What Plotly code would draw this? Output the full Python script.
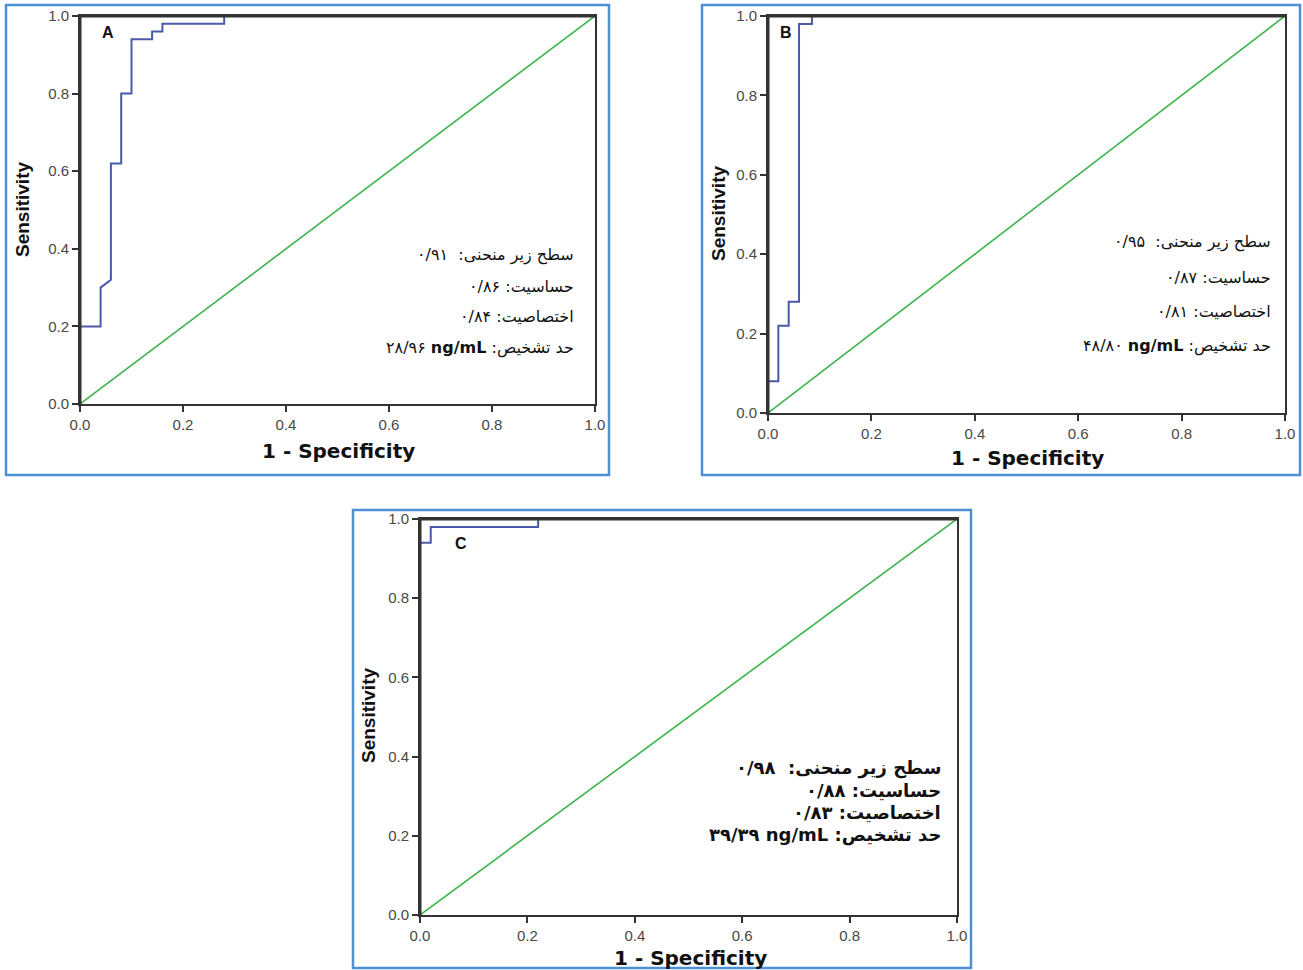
import plotly.graph_objects as go

W, H = 1303, 970

# ---------------- data ----------------
fpr_A = [0, 0, 0.04, 0.04, 0.06, 0.06, 0.08, 0.08, 0.10, 0.10, 0.14, 0.14, 0.16, 0.16, 0.28, 0.28, 1.0]
tpr_A = [0, 0.20, 0.20, 0.30, 0.32, 0.62, 0.62, 0.80, 0.80, 0.94, 0.94, 0.96, 0.96, 0.98, 0.98, 1.0, 1.0]

fpr_B = [0, 0, 0.02, 0.02, 0.04, 0.04, 0.06, 0.06, 0.085, 0.085, 1.0]
tpr_B = [0, 0.08, 0.08, 0.22, 0.22, 0.28, 0.28, 0.98, 0.98, 1.0, 1.0]

fpr_C = [0, 0, 0.02, 0.02, 0.22, 0.22, 1.0]
tpr_C = [0, 0.94, 0.94, 0.98, 0.98, 1.0, 1.0]

ref_x = [0, 1]
ref_y = [0, 1]

tick_vals = [0.0, 0.2, 0.4, 0.6, 0.8, 1.0]
tick_text = ["0.0", "0.2", "0.4", "0.6", "0.8", "1.0"]

auc = {"A": "۰/۹۱", "B": "۰/۹۵", "C": "۰/۹۸"}
sens = {"A": "۰/۸۶", "B": "۰/۸۷", "C": "۰/۸۸"}
spec = {"A": "۰/۸۴", "B": "۰/۸۱", "C": "۰/۸۳"}
cutoff = {"A": "۲۸/۹۶", "B": "۴۸/۸۰", "C": "۳۹/۳۹"}

LBL_AUC = "سطح زیر منحنی"
LBL_SENS = "حساسیت"
LBL_SPEC = "اختصاصیت"
LBL_CUT = "حد تشخیص"

# ---------------- layout geometry (pixels) ----------------
def px(x):
    return x / W

def py(y):
    return 1 - y / H

panels = {
    "A": dict(plot=(80, 595, 16, 404), frame=(6, 609, 5, 475), xa="x", ya="y",
              label=(108, 33), ytitle=(22, 210), xtitle=(338, 451),
              txt_right=576, txt_y=[255, 286, 317, 348], fs=16, bold=False),
    "B": dict(plot=(768, 1285, 16, 413), frame=(702, 1300, 5, 475), xa="x2", ya="y2",
              label=(786, 33), ytitle=(718, 213), xtitle=(1027, 458),
              txt_right=1273, txt_y=[242, 277, 311, 346], fs=16, bold=False),
    "C": dict(plot=(420, 957, 519, 915), frame=(353, 971, 510, 968), xa="x3", ya="y3",
              label=(461, 543), ytitle=(368, 716), xtitle=(690, 958),
              txt_right=943, txt_y=[768, 790, 812, 835], fs=18, bold=True),
}

curves = {"A": (fpr_A, tpr_A), "B": (fpr_B, tpr_B), "C": (fpr_C, tpr_C)}

BLUE_LINE = "#4b5aa8"
GREEN_LINE = "#3cb44b"
FRAME = "#333333"
PANEL_BORDER = "#4f8fd6"

fig = go.Figure()
layout = dict(
    width=W, height=H, autosize=False,
    margin=dict(l=0, r=0, t=0, b=0, pad=0, autoexpand=False),
    paper_bgcolor="white", plot_bgcolor="white",
    showlegend=False,
)

shapes = []
annotations = []

for name, p in panels.items():
    x0, x1, yt, yb = p["plot"]
    fx, fy = curves[name]
    fig.add_trace(go.Scatter(x=ref_x, y=ref_y, mode="lines", xaxis=p["xa"], yaxis=p["ya"],
                             line=dict(color=GREEN_LINE, width=1.6), cliponaxis=False,
                             hoverinfo="skip"))
    fig.add_trace(go.Scatter(x=fx, y=fy, mode="lines", xaxis=p["xa"], yaxis=p["ya"],
                             line=dict(color=BLUE_LINE, width=2), cliponaxis=False,
                             hoverinfo="skip"))
    suffix = p["xa"][1:]
    axcommon = dict(range=[0, 1], showgrid=False, zeroline=False, showline=True,
                    linecolor=FRAME, linewidth=2, mirror=True, ticks="outside",
                    ticklen=6, tickwidth=2, tickcolor=FRAME, tickvals=tick_vals,
                    ticktext=tick_text, automargin=False, layer="above traces",
                    tickfont=dict(family="Liberation Sans", size=15, color="#484848"),
                    fixedrange=True)
    layout["xaxis" + suffix] = dict(axcommon, domain=[px(x0), px(x1)], anchor=p["ya"])
    layout["yaxis" + suffix] = dict(axcommon, domain=[py(yb), py(yt)], anchor=p["xa"])

    # frame edges drawn over the curve (left and top), as in the reference
    shapes.append(dict(type="line", xref=p["xa"], yref=p["ya"], x0=0, x1=0, y0=0, y1=1,
                       layer="above", line=dict(color=FRAME, width=3)))
    shapes.append(dict(type="line", xref=p["xa"], yref=p["ya"], x0=0, x1=1, y0=1, y1=1,
                       layer="above", line=dict(color=FRAME, width=3)))

    bx0, bx1, byt, byb = p["frame"]
    shapes.append(dict(type="rect", xref="paper", yref="paper",
                       x0=px(bx0), x1=px(bx1), y0=py(byb), y1=py(byt),
                       line=dict(color=PANEL_BORDER, width=2.5), fillcolor="rgba(0,0,0,0)"))

    annotations.append(dict(xref="paper", yref="paper", x=px(p["label"][0]), y=py(p["label"][1]),
                            text="<b>%s</b>" % name, showarrow=False, xanchor="center", yanchor="middle",
                            font=dict(family="Liberation Sans", size=16, color="#111111")))
    annotations.append(dict(xref="paper", yref="paper", x=px(p["ytitle"][0]), y=py(p["ytitle"][1]),
                            text="<b>Sensitivity</b>", showarrow=False, textangle=-90,
                            xanchor="center", yanchor="middle",
                            font=dict(family="Liberation Sans Narrow, Liberation Sans", size=19, color="#111111")))
    annotations.append(dict(xref="paper", yref="paper", x=px(p["xtitle"][0]), y=py(p["xtitle"][1]),
                            text="<b>1 - Specificity</b>", showarrow=False,
                            xanchor="center", yanchor="middle",
                            font=dict(family="DejaVu Sans", size=20, color="#111111")))

    LRM = "\u200e"
    b0, b1 = ("<b>", "</b>") if p["bold"] else ("", "")
    lines = [
        LRM + b0 + auc[name] + "  :" + LBL_AUC + b1,
        LRM + b0 + sens[name] + " :" + LBL_SENS + b1,
        LRM + b0 + spec[name] + " :" + LBL_SPEC + b1,
        LRM + b0 + cutoff[name] + " " + b1 + "<b>ng/mL</b>" + b0 + " :" + LBL_CUT + b1,
    ]
    for t, yy in zip(lines, p["txt_y"]):
        annotations.append(dict(xref="paper", yref="paper", x=px(p["txt_right"]), y=py(yy),
                                text=t, showarrow=False, xanchor="right", yanchor="middle",
                                font=dict(family="DejaVu Sans", size=p["fs"], color="#111111")))

layout["shapes"] = shapes
layout["annotations"] = annotations
fig.update_layout(**layout)

fig.write_html(
    "out.html",
    config={"displayModeBar": False, "staticPlot": True},
    post_script="document.body.style.margin='0';document.body.style.padding='0';"
                "document.documentElement.style.overflow='hidden';document.body.style.overflow='hidden';",
)
